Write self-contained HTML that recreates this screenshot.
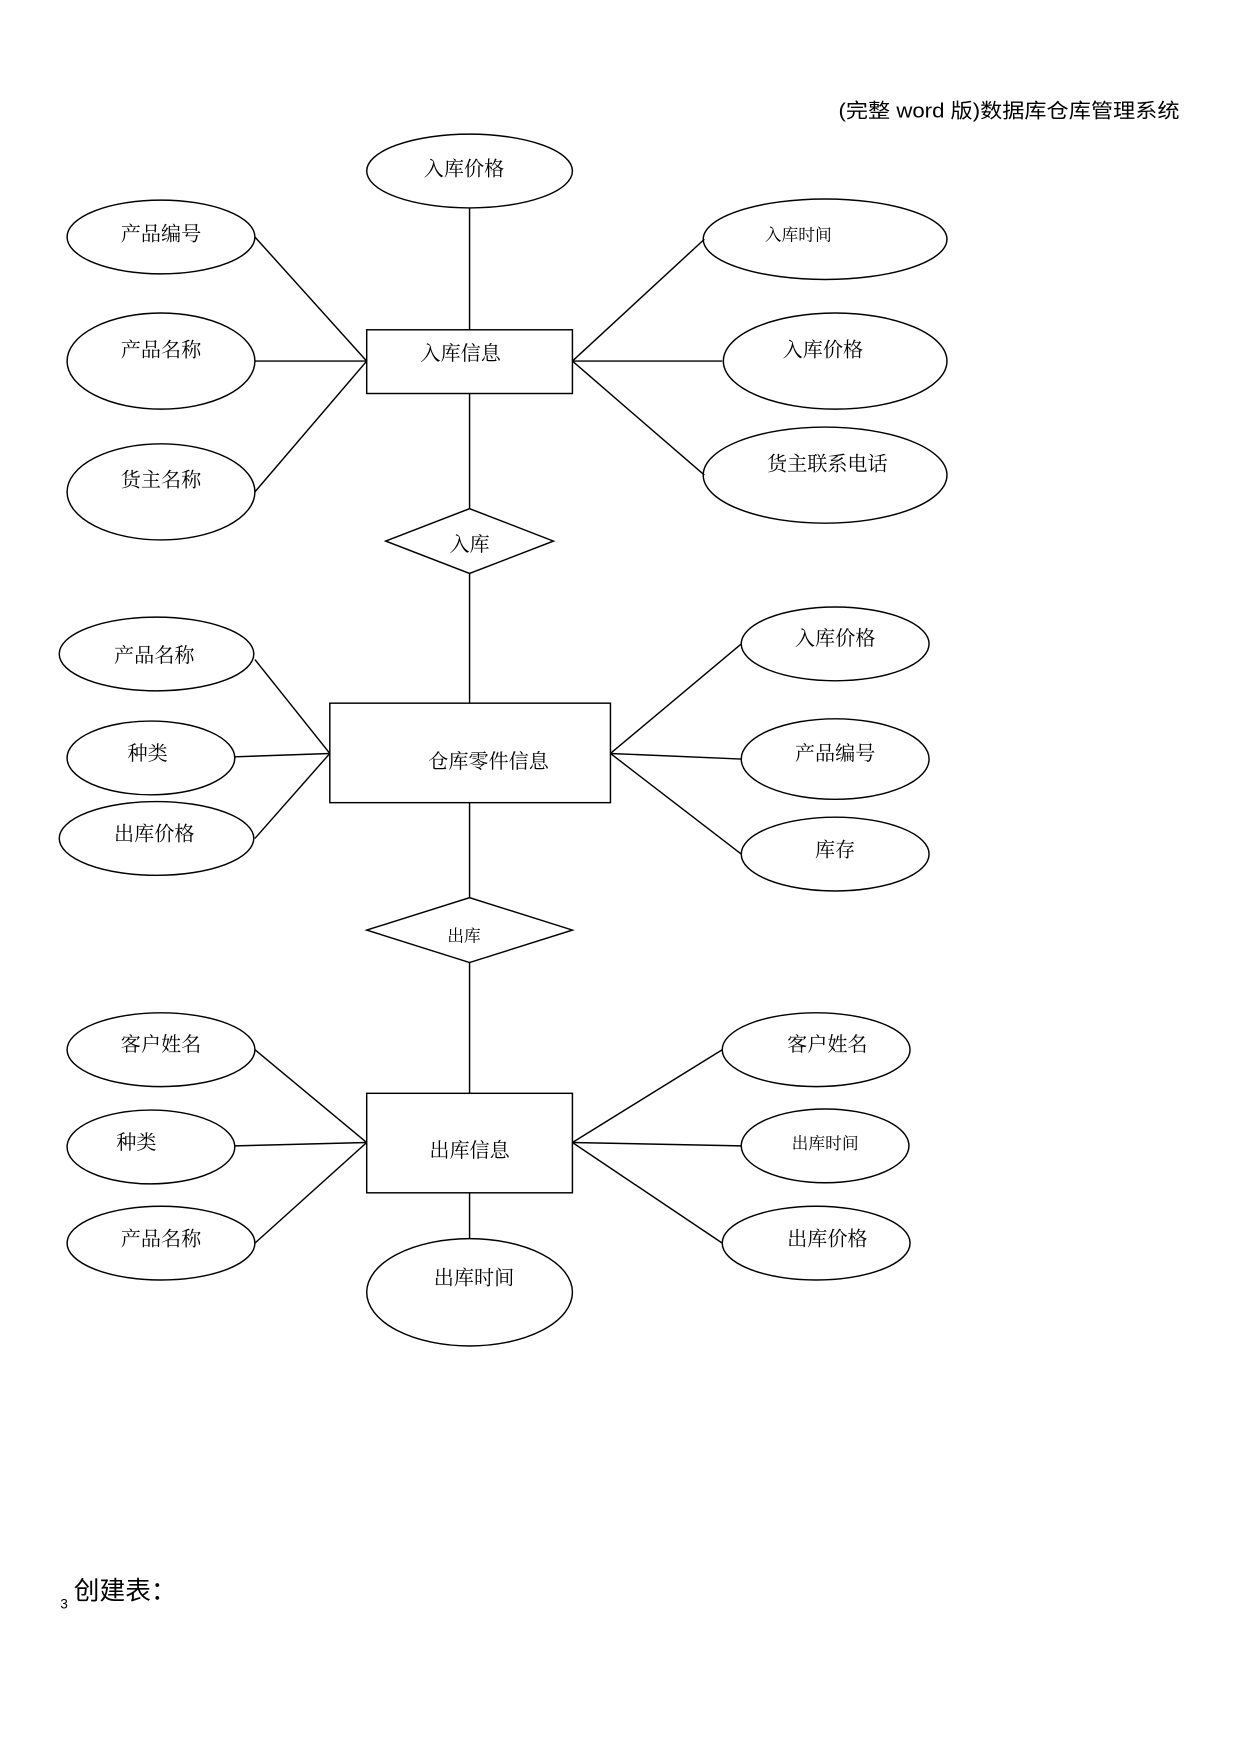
<!DOCTYPE html>
<html><head><meta charset="utf-8"><style>
html,body{margin:0;padding:0;background:#fff;}
svg{display:block;}
.l{font-family:"Liberation Serif","Noto Serif CJK SC",serif;font-size:18px;fill:#000;text-anchor:middle;}
</style></head><body>
<svg width="1241" height="1754" viewBox="0 0 1110 1569" preserveAspectRatio="none" xmlns="http://www.w3.org/2000/svg">
<g fill="none" stroke="#000" stroke-width="1.3">
<ellipse cx="420" cy="153" rx="92" ry="33"/>
<ellipse cx="144" cy="212" rx="84" ry="33"/>
<ellipse cx="144" cy="323" rx="84" ry="43"/>
<ellipse cx="144" cy="440" rx="84" ry="43"/>
<rect x="328" y="295" width="184" height="57"/>
<ellipse cx="738" cy="214" rx="109" ry="36"/>
<ellipse cx="747" cy="323" rx="100" ry="43"/>
<ellipse cx="738" cy="425" rx="109" ry="43"/>
<polygon points="345,484 420,455 495,484 420,513"/>
<line x1="420" y1="186" x2="420" y2="295"/>
<line x1="420" y1="352" x2="420" y2="455"/>
<line x1="420" y1="513" x2="420" y2="629"/>
<line x1="228" y1="212" x2="328" y2="323"/>
<line x1="228" y1="323" x2="328" y2="323"/>
<line x1="228" y1="440" x2="328" y2="323"/>
<line x1="512" y1="323" x2="630" y2="214"/>
<line x1="512" y1="323" x2="646" y2="323"/>
<line x1="512" y1="323" x2="630" y2="425"/>
<rect x="295" y="629" width="251" height="89"/>
<ellipse cx="140" cy="585" rx="87" ry="33"/>
<ellipse cx="135" cy="678" rx="75" ry="33"/>
<ellipse cx="140" cy="750" rx="87" ry="33"/>
<line x1="228" y1="590" x2="295" y2="674"/>
<line x1="210" y1="677" x2="295" y2="674"/>
<line x1="228" y1="750" x2="295" y2="674"/>
<ellipse cx="747" cy="576" rx="84" ry="33"/>
<ellipse cx="747" cy="679" rx="84" ry="36"/>
<ellipse cx="747" cy="764" rx="84" ry="33"/>
<line x1="546" y1="674" x2="663" y2="576"/>
<line x1="546" y1="674" x2="663" y2="679"/>
<line x1="546" y1="674" x2="663" y2="764"/>
<line x1="420" y1="718" x2="420" y2="803"/>
<polygon points="328,832 420,803 512,832 420,861"/>
<line x1="420" y1="861" x2="420" y2="978"/>
<rect x="328" y="978" width="184" height="89"/>
<ellipse cx="144" cy="939" rx="84" ry="33"/>
<ellipse cx="135" cy="1026" rx="75" ry="33"/>
<ellipse cx="144" cy="1112" rx="84" ry="33"/>
<line x1="228" y1="939" x2="328" y2="1022"/>
<line x1="210" y1="1025" x2="328" y2="1022"/>
<line x1="228" y1="1112" x2="328" y2="1022"/>
<ellipse cx="730" cy="939" rx="84" ry="33"/>
<ellipse cx="738" cy="1025" rx="75" ry="33"/>
<ellipse cx="730" cy="1112" rx="84" ry="33"/>
<line x1="512" y1="1022" x2="646" y2="939"/>
<line x1="512" y1="1022" x2="663" y2="1025"/>
<line x1="512" y1="1022" x2="646" y2="1112"/>
<line x1="420" y1="1067" x2="420" y2="1108"/>
<ellipse cx="420" cy="1156" rx="92" ry="48"/>
</g>
<text x="750" y="105" textLength="305" lengthAdjust="spacingAndGlyphs" style="font-family:'Liberation Sans','Noto Sans CJK SC',sans-serif;font-size:18px">(完整 word 版)数据库仓库管理系统</text>
<g class="l">
<text x="415" y="157">入库价格</text>
<text x="144" y="215">产品编号</text>
<text x="144" y="319">产品名称</text>
<text x="144" y="435">货主名称</text>
<text x="412" y="322">入库信息</text>
<text x="714" y="215" style="font-size:15px">入库时间</text>
<text x="736" y="319">入库价格</text>
<text x="740" y="421">货主联系电话</text>
<text x="420" y="493">入库</text>
<text x="138" y="592">产品名称</text>
<text x="132" y="680">种类</text>
<text x="138" y="752">出库价格</text>
<text x="437" y="687">仓库零件信息</text>
<text x="747" y="577">入库价格</text>
<text x="747" y="680">产品编号</text>
<text x="747" y="766">库存</text>
<text x="415" y="842" style="font-size:15px">出库</text>
<text x="144" y="940">客户姓名</text>
<text x="122" y="1028">种类</text>
<text x="144" y="1114">产品名称</text>
<text x="420" y="1035">出库信息</text>
<text x="740" y="940">客户姓名</text>
<text x="738" y="1028" style="font-size:15px">出库时间</text>
<text x="740" y="1114">出库价格</text>
<text x="424" y="1149">出库时间</text>
</g>
<text x="54" y="1439" style="font-family:'Liberation Sans',sans-serif;font-size:12px">3</text>
<text x="66" y="1431" style="font-family:'Liberation Sans','Noto Sans CJK SC',sans-serif;font-size:23px">创建表：</text>
</svg>
</body></html>
